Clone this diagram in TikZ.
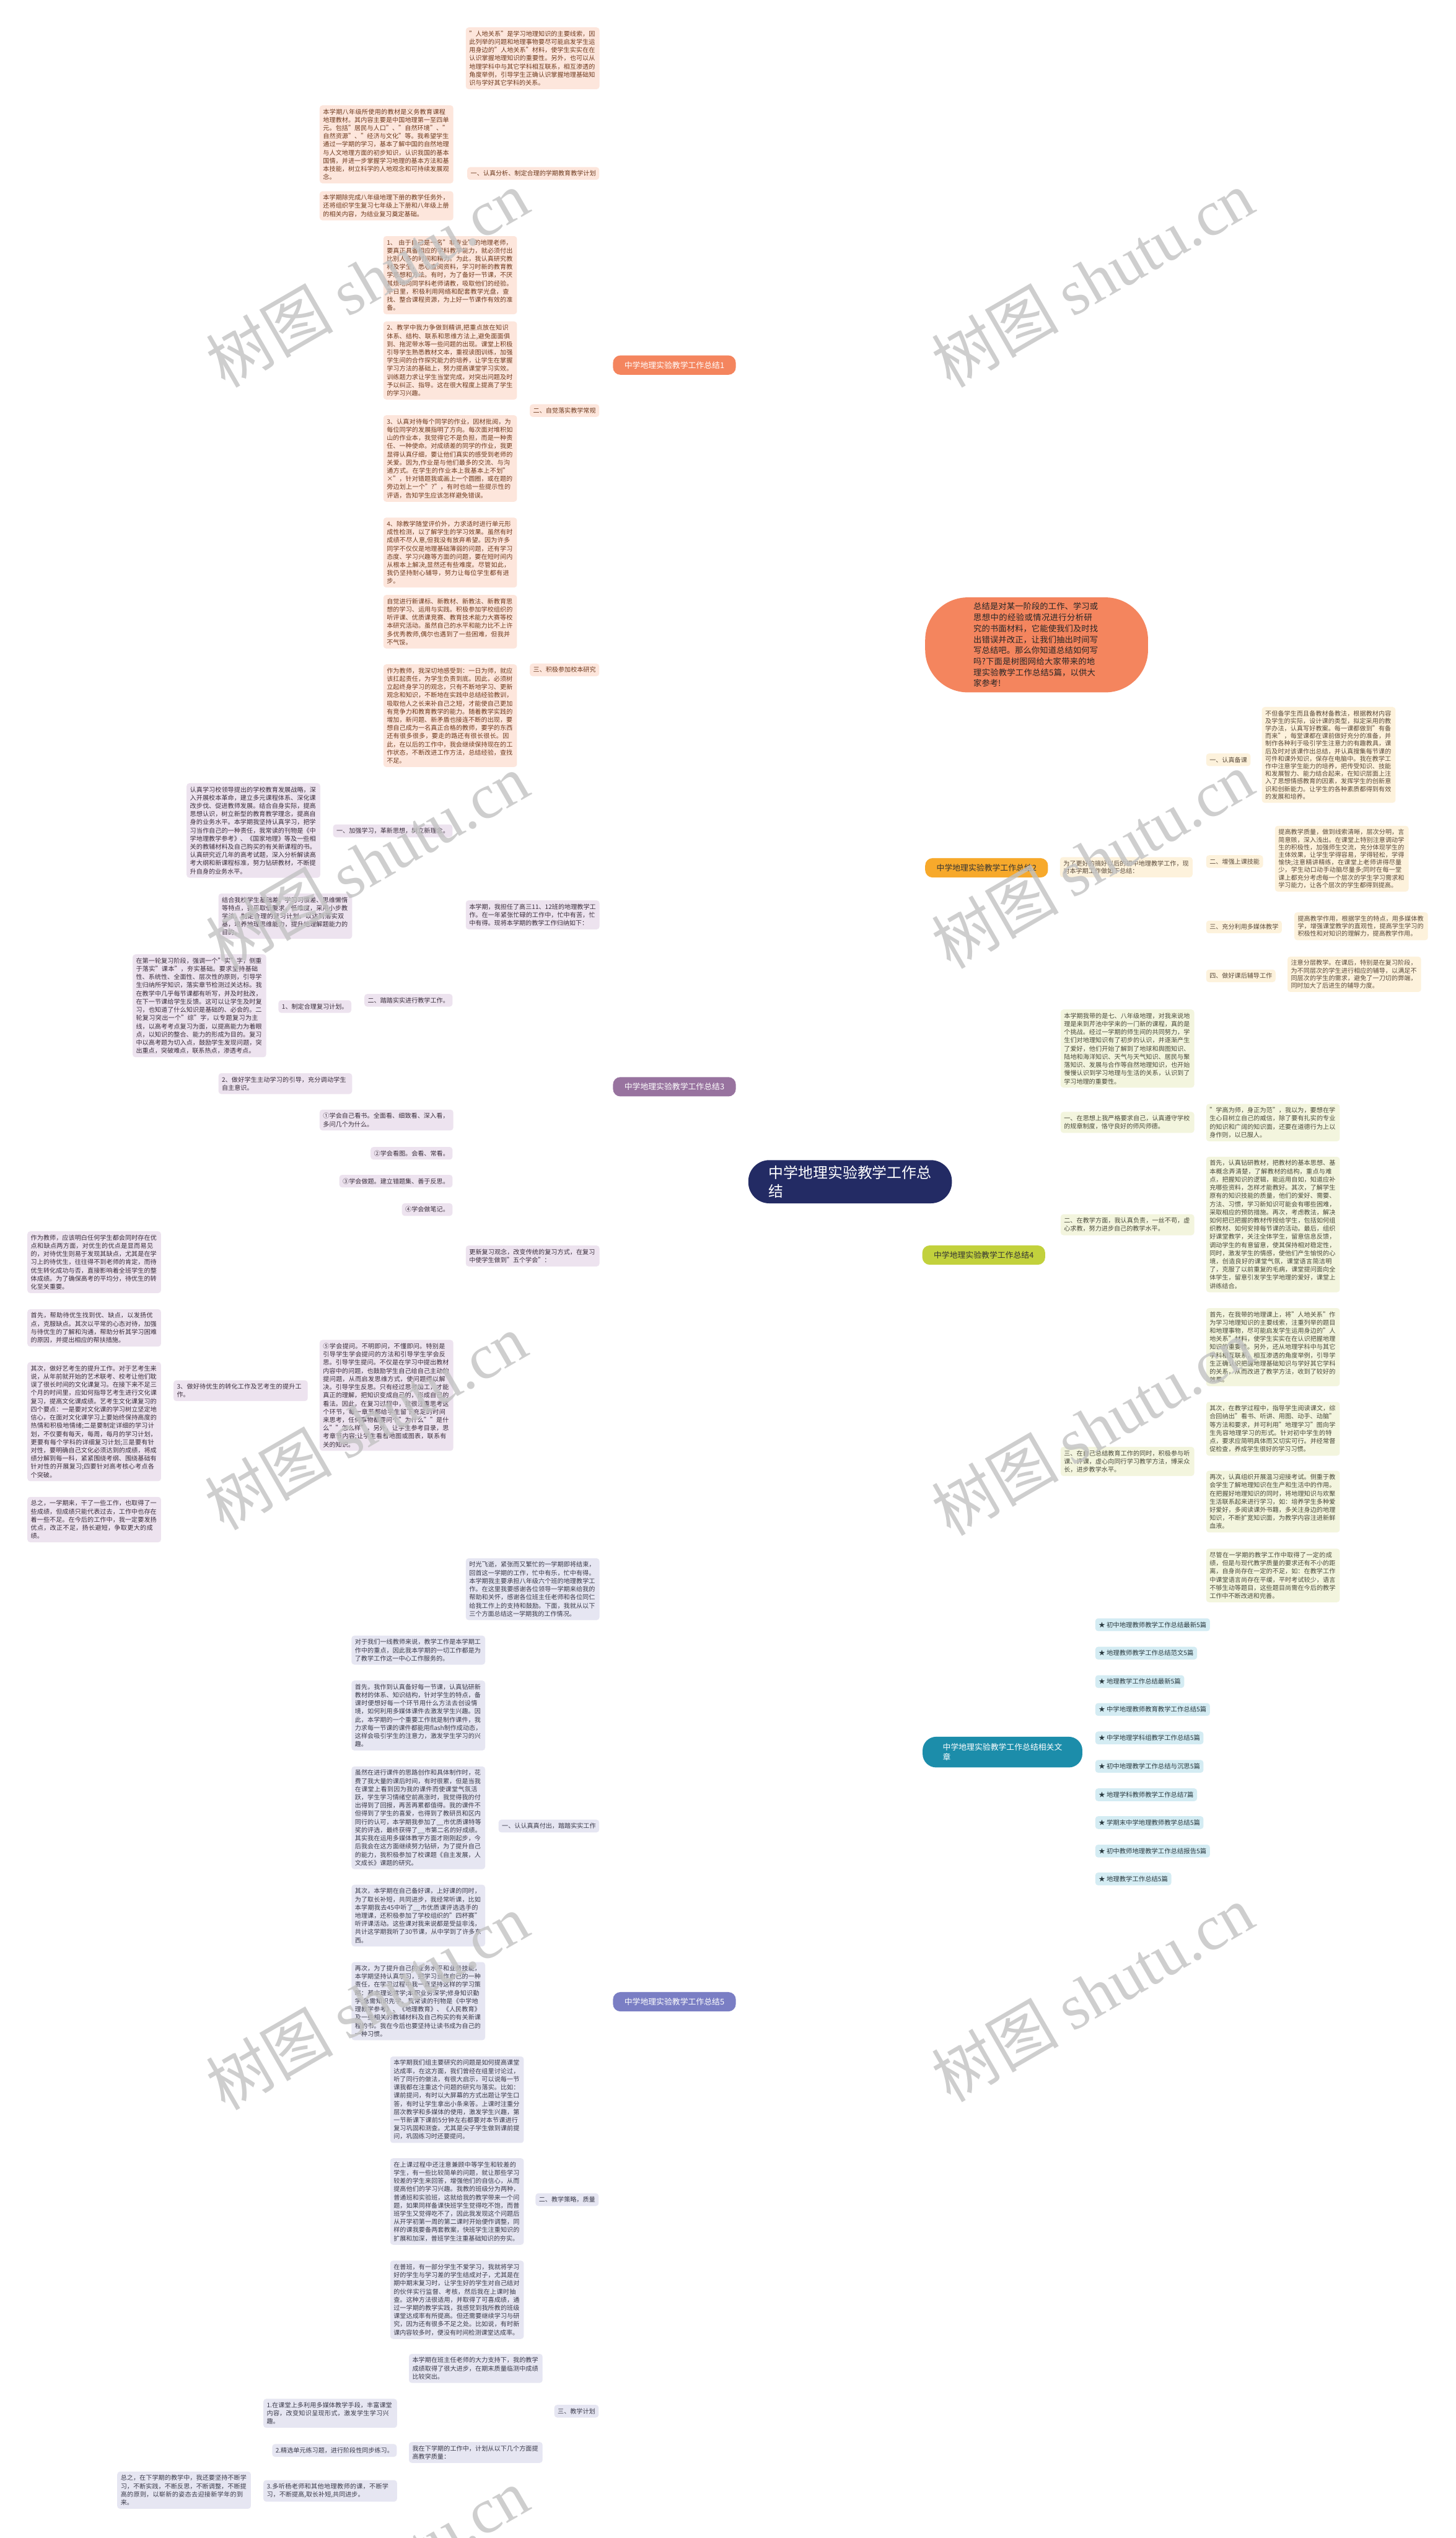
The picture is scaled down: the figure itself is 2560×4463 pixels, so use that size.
\documentclass[tikz,border=0pt]{standalone}
\usepackage{fontspec}
\setmainfont{Noto Sans CJK SC}
\newfontfamily\wmlat{Liberation Serif}
\usetikzlibrary{calc}
\XeTeXlinebreaklocale "zh"
\XeTeXlinebreakskip = 0pt plus 1pt
\definecolor{navy}{HTML}{232B64}
\definecolor{oMain}{HTML}{F4855E}
\definecolor{oLine}{HTML}{E98A60}
\definecolor{oBox}{HTML}{FDE6DC}
\definecolor{oText}{HTML}{6E3A1E}
\definecolor{yMain}{HTML}{F7A92B}
\definecolor{yLine}{HTML}{F2AE3B}
\definecolor{yBox}{HTML}{FDF2DC}
\definecolor{yText}{HTML}{5A4A3A}
\definecolor{pMain}{HTML}{98739F}
\definecolor{pLine}{HTML}{7E5683}
\definecolor{pBox}{HTML}{EDE3EF}
\definecolor{pText}{HTML}{3A2E3C}
\definecolor{gMain}{HTML}{C2D13C}
\definecolor{gLine}{HTML}{B9C83A}
\definecolor{gBox}{HTML}{F3F5DE}
\definecolor{gText}{HTML}{4A4A3A}
\definecolor{tMain}{HTML}{1C8DAA}
\definecolor{tBox}{HTML}{D4ECF3}
\definecolor{tText}{HTML}{2A3A40}
\definecolor{bMain}{HTML}{7A7EC4}
\definecolor{bLine}{HTML}{5B5E9C}
\definecolor{bBox}{HTML}{E6E6F2}
\definecolor{bText}{HTML}{3A3A4A}
\pgfdeclarelayer{bg}
\pgfdeclarelayer{fg}
\pgfsetlayers{bg,main,fg}
\newcommand\cvL[3]{\draw[#1] (#2.west) .. controls ([xshift=-12pt]#2.west) and ($(#2.west |- #3.east)+(-12pt,0pt)$) .. (#3.east);}
\newcommand\cvR[3]{\draw[#1] (#2.east) .. controls ([xshift=12pt]#2.east) and ($(#2.east |- #3.west)+(12pt,0pt)$) .. (#3.west);}
\newcommand\ebL[3]{\draw[#1] (#2.west) -- ([xshift=-11pt]#2.west) |- (#3.east);}
\newcommand\ebR[3]{\draw[#1] (#2.east) -- ([xshift=11pt]#2.east) |- (#3.west);}
\newcommand\stL[3]{\draw[#1] (#2.west) -- (#2.west -| #3.east);}
\newcommand\stR[3]{\draw[#1] (#2.east) -- (#2.east -| #3.west);}
\tikzset{
 txt/.style={font=\fontsize{11}{14.4}\selectfont},
 bx/.style={txt, rounded corners=5pt, inner xsep=6pt, inner ysep=6pt, align=left, text width=#1, anchor=north west},
 bx/.default=223pt,
 lb/.style={txt, rounded corners=5pt, inner xsep=6pt, inner ysep=6pt},
 bO/.style={bx, fill=oBox, text=oText}, lO/.style={lb, fill=oBox, text=oText},
 bY/.style={bx, fill=yBox, text=yText, font=\fontsize{11}{13.3}\selectfont}, lY/.style={lb, fill=yBox, text=yText},
 bP/.style={bx, fill=pBox, text=pText}, lP/.style={lb, fill=pBox, text=pText},
 bG/.style={bx, fill=gBox, text=gText}, lG/.style={lb, fill=gBox, text=gText},
 lT/.style={lb, fill=tBox, text=tText, anchor=west, font=\fontsize{11.3}{14}\selectfont},
 bB/.style={bx, fill=bBox, text=bText}, lB/.style={lb, fill=bBox, text=bText},
 cO/.style={draw=oLine, line width=1.8pt, rounded corners=6pt},
 cY/.style={draw=yLine, line width=1.8pt, rounded corners=6pt},
 cP/.style={draw=pLine, line width=1.8pt, rounded corners=6pt},
 cG/.style={draw=gLine, line width=1.8pt, rounded corners=6pt},
 cT/.style={draw=tMain, line width=1.8pt, rounded corners=6pt},
 cB/.style={draw=bLine, line width=1.8pt, rounded corners=6pt},
 mln/.style={line width=2.6pt},
 brn/.style={font=\fontsize{14}{17}\selectfont, rounded corners=13pt, minimum width=216pt, minimum height=34pt, inner xsep=4pt},
 ctr/.style={fill=navy, text=white, font=\fontsize{26}{32}\selectfont, rounded corners=37pt, minimum width=358pt, minimum height=76pt, align=left},
 wm/.style={text=black!24, opacity=0.8, rotate=30, font=\fontsize{112}{120}\selectfont}
}
\begin{document}
\begin{tikzpicture}[x=1pt,y=-1pt]
\fill[white] (0,0) rectangle (2560,4463);
\useasboundingbox (0,0) rectangle (2560,4463);

% ---------- center ----------
\node[ctr] (C) at (1495,2078) {中学地理实验教学工作总\\结};
\coordinate (s1) at (1390,2078);
\coordinate (s2) at (1430,2078);
\coordinate (s3) at (1450,2078);
\coordinate (s4) at (1380,2078);
\coordinate (s5) at (1560,2078);
\coordinate (s6) at (1520,2078);
\coordinate (s7) at (1420,2078);

\node[fill=oMain, text=black!85, rounded corners=75pt, minimum width=392pt, minimum height=167pt, text width=222pt, align=left, font=\fontsize{14.5}{19.3}\selectfont] (intro) at (1823,1134) {总结是对某一阶段的工作、学习或思想中的经验或情况进行分析研究的书面材料，它能使我们及时找出错误并改正，让我们抽出时间写写总结吧。那么你知道总结如何写吗?下面是树图网给大家带来的地理实验教学工作总结5篇，以供大家参考!};

\node[brn, fill=oMain, text=white] (B1) at (1186,642) {中学地理实验教学工作总结1};
\node[brn, fill=yMain, text=black!80] (B2) at (1735,1526) {中学地理实验教学工作总结2};
\node[brn, fill=pMain, text=white] (B3) at (1186,1911) {中学地理实验教学工作总结3};
\node[brn, fill=gMain, text=black!80] (B4) at (1730,2207) {中学地理实验教学工作总结4};
\node[brn, fill=tMain, text=white, minimum width=281pt, minimum height=54pt, rounded corners=24pt, align=left] (Rel) at (1763,3081) {中学地理实验教学工作总结相关文\\章};
\node[brn, fill=bMain, text=white] (B5) at (1186,3520) {中学地理实验教学工作总结5};

% ---------- branch 1 ----------
\node[bO] (n1a) at (819,48) {"人地关系"是学习地理知识的主要线索，因此列举的问题和地理事物要尽可能启发学生运用身边的"人地关系"材料，使学生实实在在认识掌握地理知识的重要性。另外，也可以从地理学科中与其它学科相互联系，相互渗透的角度举例，引导学生正确认识掌握地理基础知识与学好其它学科的关系。};
\node[lO, anchor=east] (n1b) at (1054,305) {一、认真分析、制定合理的学期教育教学计划};
\node[bO] (n1b1) at (562,185) {本学期八年级所使用的教材是义务教育课程地理教材。其内容主要是中国地理第一至四单元。包括"居民与人口"、"自然环境"、"自然资源"、"经济与文化"等。我希望学生通过一学期的学习，基本了解中国的自然地理与人文地理方面的初步知识，认识我国的基本国情，并进一步掌握学习地理的基本方法和基本技能，树立科学的人地观念和可持续发展观念。};
\node[bO] (n1b2) at (562,336) {本学期除完成八年级地理下册的教学任务外，还将组织学生复习七年级上下册和八年级上册的相关内容，为结业复习奠定基础。};
\node[lO, anchor=east] (n1c) at (1054,722) {二、自觉落实教学常规};
\node[bO] (n1c1) at (674,415) {1、 由于自己是一名"非专业"的地理老师，要真正具备相应的学科教学能力，就必须付出比别人多的时间和精力。为此，我认真研究教材及学生，悉心查阅资料，学习时新的教育教学思想和方法。有时，为了备好一节课，不厌其烦地向同学科老师请教，吸取他们的经验。平日里，积极利用网络和配套教学光盘，查找、整合课程资源，为上好一节课作有效的准备。};
\node[bO] (n1c2) at (674,565) {2、教学中我力争做到精讲,把重点放在知识体系、结构、联系和思维方法上,避免面面俱到、拖泥带水等一些问题的出现。课堂上积极引导学生熟悉教材文本，重视读图训练，加强学生间的合作探究能力的培养，让学生在掌握学习方法的基础上，努力提高课堂学习实效。训练题力求让学生当堂完成，对突出问题及时予以纠正、指导。这在很大程度上提高了学生的学习兴趣。};
\node[bO] (n1c3) at (674,730) {3、认真对待每个同学的作业，因材批阅，为每位同学的发展指明了方向。每次面对堆积如山的作业本，我觉得它不是负担，而是一种责任、一种使命。对成绩差的同学的作业，我更显得认真仔细，要让他们真实的感受到老师的关爱。因为,作业是与他们最多的交流、与沟通方式。在学生的作业本上我基本上不划"×"，针对错题我或画上一个圆圈，或在题的旁边划上一个"?"，有时也给一些提示性的评语，告知学生应该怎样避免错误。};
\node[bO] (n1c4) at (674,910) {4、除教学随堂评价外，力求适时进行单元形成性检测，以了解学生的学习效果。虽然有时成绩不尽人意,但我没有放弃希望。因为许多同学不仅仅是地理基础薄弱的问题，还有学习态度、学习兴趣等方面的问题，要在短时间内从根本上解决,显然还有些难度。尽管如此，我仍坚持耐心辅导，努力让每位学生都有进步。};
\node[lO, anchor=east] (n1d) at (1054,1178) {三、积极参加校本研究};
\node[bO] (n1d1) at (674,1046) {自觉进行新课标、新教材、新教法、新教育思想的学习、运用与实践。积极参加学校组织的听评课、优质课竞赛、教育技术能力大赛等校本研究活动。虽然自己的水平和能力比不上许多优秀教师,偶尔也遇到了一些困难，但我并不气馁。};
\node[bO] (n1d2) at (674,1168) {作为教师，我深切地感受到：一日为师，就应该扛起责任，为学生负责到底。因此，必须树立起终身学习的观念，只有不断地学习、更新观念和知识，不断地在实践中总结经验教训，吸取他人之长来补自己之短，才能使自己更加有竞争力和教育教学的能力。随着教学实践的增加，新问题、新矛盾也接连不断的出现，要想自己成为一名真正合格的教师，要学的东西还有很多很多，要走的路还有很长很长。因此，在以后的工作中，我会继续保持现在的工作状态，不断改进工作方法，总结经验，查找不足。};

% ---------- branch 2 ----------
\node[bY, text width=221pt] (n2a) at (1864,1507) {为了更好的搞好以后的初中地理教学工作，现对本学期工作做如下总结：};
\node[lY, anchor=west] (n2b) at (2121,1336) {一、认真备课};
\node[lY, anchor=west] (n2c) at (2121,1515) {二、增强上课技能};
\node[lY, anchor=west] (n2d) at (2121,1630) {三、充分利用多媒体教学};
\node[lY, anchor=west] (n2e) at (2121,1716) {四、做好课后辅导工作};
\node[bY] (n2b1) at (2219,1243) {不但备学生而且备教材备教法，根据教材内容及学生的实际，设计课的类型，拟定采用的教学办法，认真写好教案。每一课都做到"有备而来"，每堂课都在课前做好充分的准备，并制作各种利于吸引学生注意力的有趣教具，课后及时对该课作出总结，并认真搜集每节课的可件和课外知识，保存在电脑中。我在教学工作中注意学生能力的培养，把传受知识、技能和发展智力、能力结合起来，在知识层面上注入了思想情感教育的因素，发挥学生的创新意识和创新能力。让学生的各种素质都得到有效的发展和培养。};
\node[bY] (n2c1) at (2242,1452) {提高教学质量，做到线索清晰，层次分明，言简意赅，深入浅出。在课堂上特别注意调动学生的积极性，加强师生交流，充分体现学生的主体效果，让学生学得容易，学得轻松，学得愉快;注意精讲精练，在课堂上老师讲得尽量少，学生动口动手动脑尽量多;同时在每一堂课上都充分考虑每一个层次的学生学习需求和学习能力，让各个层次的学生都得到提高。};
\node[bY] (n2d1) at (2276,1604) {提高教学作用，根据学生的特点，用多媒体教学，增强课堂教学的直观性，提高学生学习的积极性和对知识的理解力，提高教学作用。};
\node[bY] (n2e1) at (2264,1682) {注意分层教学。在课后，特别是在复习阶段，为不同层次的学生进行相应的辅导，以满足不同层次的学生的需求，避免了一刀切的弊端，同时加大了后进生的辅导力度。};

% ---------- branch 3 ----------
\node[bP] (n3a) at (819,1583) {本学期，我担任了高三11、12班的地理教学工作。在一年紧张忙碌的工作中，忙中有苦，忙中有得。现将本学期的教学工作归纳如下：};
\node[lP, anchor=east] (n3b) at (796,1461) {一、加强学习，革新思想，树立新理念。};
\node[bP] (n3b1) at (328,1377) {认真学习校领导提出的学校教育发展战略，深入开展校本革命，建立多元课程体系、深化课改步伐、促进教师发展。结合自身实际，提高思想认识，树立新型的教育教学理念，提高自身的业务水平。本学期我坚持认真学习，把学习当作自己的一种责任，我常读的刊物是《中学地理教学参考》、《国家地理》等及一些相关的教辅材料及自己购买的有关新课程的书。认真研究近几年的高考试题，深入分析解读高考大纲和新课程标准，努力钻研教材，不断提升自身的业务水平。};
\node[lP, anchor=east] (n3c) at (796,1759) {二、踏踏实实进行教学工作。};
\node[bP] (n3c1) at (384,1571) {结合我校学生基础差、学习习惯差、思维懒惰等特点，我采取低要求，低难度，采用小步教学法，制定合理的复习计划，以达到落实双基，培养地理思维能力，提升地理解题能力的目的。};
\node[lP, anchor=east] (n3c2) at (618,1770) {1、制定合理复习计划。};
\node[bP] (n3c2a) at (233,1678) {在第一轮复习阶段，强调一个"实"字，侧重于落实"课本"，夯实基础。要求坚持基础性、系统性、全面性、层次性的原则，引导学生归纳所学知识，落实章节检测过关达标。我在教学中几乎每节课都有听写，并及时批改，在下一节课给学生反馈。这可以让学生及时复习，也知道了什么知识是基础的、必会的。二轮复习突出一个"综"字，以专题复习为主线，以高考考点复习为面，以提高能力为着眼点，以知识的整合、能力的形成为目的。复习中以高考题为切入点，鼓励学生发现问题，突出重点，突破难点，联系热点，渗透考点。};
\node[bP] (n3c3) at (384,1887) {2、做好学生主动学习的引导，充分调动学生自主意识。};
\node[bP] (n3d) at (819,2190) {更新复习观念，改变传统的复习方式，在复习中使学生做到"五个学会"：};
\node[bP] (n3d1) at (562,1951) {①学会自己看书。全面看、细致看、深入看，多问几个为什么。};
\node[lP, anchor=east] (n3d2) at (796,2028) {②学会看图。会看、常看。};
\node[lP, anchor=east] (n3d3) at (796,2077) {③学会做题。建立错题集、善于反思。};
\node[lP, anchor=east] (n3d4) at (796,2127) {④学会做笔记。};
\node[bP] (n3d5) at (562,2356) {⑤学会提问。不明即问，不懂即问。特别是引导学生学会提问的方法和引导学生学会反思。引导学生提问。不仅是在学习中提出教材内容中的问题，也鼓励学生自己给自己主动的提问题，从而启发思维方式，使问题得以解决。引导学生反思。只有经过思考加工，才能真正的理解，把知识变成自己的，形成自己的看法。因此，在复习过程中，我很注重思考这个环节，每一章节都给学生留下充足的时间来思考，任何事物都要问个"为什么""是什么""怎么样"，另外，让学生参考目录，思考章节内容;让学生看着地图或图表，联系有关的知识。};
\node[bP, text width=224pt] (n3e) at (305,2427) {3、做好待优生的转化工作及艺考生的提升工作。};
\node[bP] (n3e1) at (48,2165) {作为教师，应该明白任何学生都会同时存在优点和缺点两方面，对优生的优点是显而易见的，对待优生则易于发现其缺点，尤其是在学习上的待优生，往往得不到老师的肯定，而待优生转化成功与否，直接影响着全班学生的整体成绩。为了确保高考的平均分，待优生的转化至关重要。};
\node[bP] (n3e2) at (48,2302) {首先，帮助待优生找到优、缺点，以发扬优点，克服缺点。其次以平常的心态对待，加强与待优生的了解和沟通，帮助分析其学习困难的原因，并提出相应的帮扶措施。};
\node[bP] (n3e3) at (48,2395) {其次，做好艺考生的提升工作。对于艺考生来说，从年前就开始的艺术联考、校考让他们耽误了很长时间的文化课复习。在接下来不足三个月的时间里，应如何指导艺考生进行文化课复习，提高文化课成绩。艺考生文化课复习的四个要点：一是要对文化课的学习树立坚定地信心，在面对文化课学习上要始终保持高度的热情和积极地情绪;二是要制定详细的学习计划，不仅要有每天，每周，每月的学习计划，更要有每个学科的详细复习计划;三是要有针对性，要明确自己文化必须达到的成绩，将成绩分解到每一科，紧紧围绕考纲、围绕基础有针对性的开展复习;四要针对高考核心考点各个突破。};
\node[bP] (n3e4) at (48,2632) {总之，一学期来，干了一些工作，也取得了一些成绩，但成绩只能代表过去，工作中也存在着一些不足。在今后的工作中，我一定要发扬优点，改正不足，扬长避短，争取更大的成绩。};

% ---------- branch 4 ----------
\node[bG] (n4a) at (1865,1775) {本学期我带的是七、八年级地理，对我来说地理是来到芹池中学来的一门新的课程，真的是个挑战。经过一学期的师生间的共同努力，学生们对地理知识有了初步的认识，并逐渐产生了爱好，他们开始了解到了地球和舆图知识、陆地和海洋知识、天气与天气知识、居民与聚落知识、发展与合作等自然地理知识，也开始慢慢认识到学习地理与生活的关系，认识到了学习地理的重要性。};
\node[bG] (n4b) at (1865,1955) {一、在思想上我严格要求自己，认真遵守学校的规章制度，恪守良好的师风师德。};
\node[bG] (n4c) at (1865,2135) {二、在教学方面，我认真负责，一丝不苟，虚心求教，努力进步自己的教学水平。};
\node[bG] (n4d) at (1865,2544) {三、在自己总结教育工作的同时，积极参与听课、评课，虚心向同行学习教学方法，博采众长，进步教学水平。};
\node[bG] (n4b1) at (2121,1941) {"学高为师，身正为范"，我以为，要想在学生心目树立自己的威信，除了要有扎实的专业的知识和广阔的知识面，还要在道德行为上以身作则，以已服人。};
\node[bG] (n4c1) at (2121,2034) {首先，认真钻研教材，把教材的基本思想、基本概念弄清楚，了解教材的结构，重点与难点，把握知识的逻辑，能运用自如，知道应补充哪些资料，怎样才能教好。其次，了解学生原有的知识技能的质量，他们的爱好、需要、方法、习惯，学习新知识可能会有哪些困难，采取相应的预防措施。再次，考虑教法，解决如何把已把握的教材传授给学生，包括如何组织教材、如何安排每节课的活动。最后，组织好课堂教学，关注全体学生，留意信息反馈，调动学生的有意留意，使其保持相对稳定性，同时，激发学生的情感，使他们产生愉悦的心境，创造良好的课堂气氛，课堂语言简洁明了，克服了以前重复的毛病，课堂提问面向全体学生，留意引发学生学地理的爱好，课堂上讲练结合。};
\node[bG] (n4d1) at (2121,2300) {首先，在我带的地理课上，将"人地关系"作为学习地理知识的主要线索，注重列举的题目和地理事物，尽可能启发学生运用身边的"人地关系"材料，使学生实实在在认识把握地理知识的重要性。另外，还从地理学科中与其它学科相互联系，相互渗透的角度举例，引导学生正确认识把握地理基础知识与学好其它学科的关系，从而改进了教学方法，收到了较好的效果。};
\node[bG] (n4d2) at (2121,2465) {其次，在教学过程中，指导学生阅读课文，综合回纳出"看书、听讲、用图、动手、动脑"等方法和要求，并可利用"地理学习"图向学生先容地理学习的形式。针对初中学生的特点，要求应简明具体而又切实可行。并经常督促检查，养成学生很好的学习习惯。};
\node[bG] (n4d3) at (2121,2586) {再次，认真组织开展温习迎接考试。侧重于教会学生了解地理知识在生产和生活中的作用。在把握好地理知识的同时，将地理知识与欢聚生活联系起来进行学习，如：培养学生多种爱好爱好，多阅读课外书籍，多关注身边的地理知识，不断扩宽知识面，为教学内容注进新鲜血液。};
\node[bG] (n4d4) at (2121,2723) {尽管在一学期的教学工作中取得了一定的成绩，但是与现代教学质量的要求还有不小的距离，自身尚存在一定的不足，如：在教学工作中课堂语言尚存在平缓，平时考试较少，语言不够生动等题目，这些题目尚需在今后的教学工作中不断改进和完善。};

% ---------- related ----------
\node[lT] (r1) at (1926,2857) {★ 初中地理教师教学工作总结最新5篇};
\node[lT] (r2) at (1926,2907) {★ 地理教师教学工作总结范文5篇};
\node[lT] (r3) at (1926,2957) {★ 地理教学工作总结最新5篇};
\node[lT] (r4) at (1926,3006) {★ 中学地理教师教育教学工作总结5篇};
\node[lT] (r5) at (1926,3056) {★ 中学地理学科组教学工作总结5篇};
\node[lT] (r6) at (1926,3106) {★ 初中地理教学工作总结与沉思5篇};
\node[lT] (r7) at (1926,3156) {★ 地理学科教师教学工作总结7篇};
\node[lT] (r8) at (1926,3205) {★ 学期末中学地理教师教学总结5篇};
\node[lT] (r9) at (1926,3255) {★ 初中教师地理教学工作总结报告5篇};
\node[lT] (r10) at (1926,3304) {★ 地理教学工作总结5篇};

% ---------- branch 5 ----------
\node[bB] (n5a) at (819,2740) {时光飞逝，紧张而又繁忙的一学期即将结束，回首这一学期的工作，忙中有乐，忙中有得。本学期我主要承担八年级六个班的地理教学工作。在这里我要感谢各位领导一学期来给我的帮助和关怀，感谢各位班主任老师和各位同仁给我工作上的支持和鼓励。下面，我就从以下三个方面总结这一学期我的工作情况。};
\node[lB, anchor=east] (n5b) at (1054,3211) {一、认认真真付出，踏踏实实工作};
\node[bB] (n5b1) at (618,2876) {对于我们一线教师来说，教学工作是本学期工作中的重点，因此我本学期的一切工作都是为了教学工作这一中心工作服务的。};
\node[bB] (n5b2) at (618,2955) {首先，我作到认真备好每一节课，认真钻研新教材的体系、知识结构，针对学生的特点，备课时便想好每一个环节用什么方法去创设情境，如何利用多媒体课件去激发学生兴趣。因此，本学期的一个重要工作就是制作课件，我力求每一节课的课件都能用flash制作成动态，这样会吸引学生的注意力，激发学生学习的兴趣。};
\node[bB] (n5b3) at (618,3106) {虽然在进行课件的思路创作和具体制作时，花费了我大量的课后时间，有时很累，但是当我在课堂上看到因为我的课件而使课堂气氛活跃，学生学习情绪空前高涨时，我觉得我的付出得到了回报，再苦再累都值得。我的课件不但得到了学生的喜爱，也得到了教研员和区内同行的认可，本学期我参加了\_\_市优质课特等奖的评选，最终获得了\_\_市第二名的好成绩。其实我在运用多媒体教学方面才刚刚起步，今后我会在这方面继续努力钻研，为了提升自己的能力，我积极参加了校课题《自主发展，人文成长》课题的研究。};
\node[bB] (n5b4) at (618,3314) {其次，本学期在自己备好课，上好课的同时，为了取长补短，共同进步，我经常听课，比如本学期我去45中听了\_\_市优质课评选选手的地理课，还积极参加了学校组织的"四杯赛"听评课活动。这些课对我来说都是受益非浅，共计这学期我听了30节课，从中学到了许多东西。};
\node[bB] (n5b5) at (618,3450) {再次，为了提升自己的业务水平和业务技能，本学期坚持认真学习，把学习当作自己的一种责任，在学习过程中我一直坚持这样的学习策略：基本理论常学;本职业务深学;修身知识勤学;急需知识先学。我常读的刊物是《中学地理教学参考》、《地理教育》、《人民教育》及一些相关的教辅材料及自己构买的有关新课程的书。我在今后也要坚持让读书成为自己的一种习惯。};
\node[lB, anchor=east] (n5c) at (1053,3868) {二、教学策略，质量};
\node[bB] (n5c1) at (686,3616) {本学期我们组主要研究的问题是如何提高课堂达成率，在这方面，我们曾经在组里讨论过，听了同行的做法，有很大启示，可以说每一节课我都在注重这个问题的研究与落实。比如：课前提问，有时以大屏幕的方式出题让学生口答，有时让学生拿出小条来答。上课时注重分层次教学和多媒体的使用，激发学生兴趣，第一节新课下课前5分钟左右都要对本节课进行复习巩固和测查。尤其是尖子学生做到课前提问，巩固练习时还要提问。};
\node[bB] (n5c2) at (686,3795) {在上课过程中还注意兼顾中等学生和较差的学生，有一些比较简单的问题，就让那些学习较差的学生来回答，增强他们的自信心，从而提高他们的学习兴趣。我教的班级分为两种，普通班和实验班，这就给我的教学带来一个问题，如果同样备课快班学生觉得吃不饱，而普班学生又觉得吃不了，因此我发现这个问题后从开学初第一周的第二课时开始便作调整，同样的课我要备两套教案，快班学生注重知识的扩展和加深，普班学生注重基础知识的夯实。};
\node[bB] (n5c3) at (686,3975) {在普班，有一部分学生不爱学习，我就将学习好的学生与学习差的学生结成对子，尤其是在期中期末复习时，让学生好的学生对自己结对的伙伴实行监督、考核，然后我在上课时抽查。这种方法很适用，并取得了可喜成绩，通过一学期的教学实践，我感觉到我所教的班级课堂达成率有所提高。但还需要继续学习与研究，因为还有很多不足之处。比如说，有时新课内容较多时，便没有时间检测课堂达成率。};
\node[lB, anchor=east] (n5d) at (1053,4240) {三、教学计划};
\node[bB] (n5d1) at (719,4139) {本学期在班主任老师的大力支持下，我的教学成绩取得了很大进步，在期末质量临测中成绩比较突出。};
\node[bB] (n5d2) at (719,4294) {我在下学期的工作中，计划从以下几个方面提高教学质量：};
\node[bB] (n5d2a) at (463,4218) {1.在课堂上多利用多媒体教学手段，丰富课堂内容，改变知识呈现形式，激发学生学习兴趣。};
\node[lB, anchor=east] (n5d2b) at (698,4309) {2.精选单元练习题，进行阶段性同步练习。};
\node[bB] (n5d2c) at (463,4361) {3.多听杨老师和其他地理教师的课，不断学习，不断提高,取长补短,共同进步。};
\node[bB] (n5d2c1) at (206,4346) {总之，在下学期的教学中，我还要坚持不断学习，不断实践，不断反思，不断调整，不断提高的原则，以崭新的姿态去迎接新学年的到来。};

% ---------- connectors ----------
\begin{pgfonlayer}{bg}
\draw[mln, draw=oLine] (s1) .. controls (s1 |- B1.east) .. (B1.east);
\draw[mln, draw=oLine] (s2) .. controls (s2 |- intro.west) .. (intro.west);
\draw[mln, draw=yLine] (s3) .. controls (s3 |- B2.west) .. (B2.west);
\draw[mln, draw=pLine] (s4) .. controls (s4 |- B3.east) .. (B3.east);
\draw[mln, draw=gLine] (s5) .. controls (s5 |- B4.west) .. (B4.west);
\draw[mln, draw=tMain] (s6) .. controls (s6 |- Rel.west) .. (Rel.west);
\draw[mln, draw=bLine] (s7) .. controls (s7 |- B5.east) .. (B5.east);
% branch 1
\cvL{cO}{B1}{n1a} \cvL{cO}{B1}{n1b} \cvL{cO}{B1}{n1c} \cvL{cO}{B1}{n1d}
\ebL{cO}{n1b}{n1b1} \ebL{cO}{n1b}{n1b2}
\ebL{cO}{n1c}{n1c1} \ebL{cO}{n1c}{n1c2} \ebL{cO}{n1c}{n1c3} \ebL{cO}{n1c}{n1c4}
\ebL{cO}{n1d}{n1d1} \ebL{cO}{n1d}{n1d2}
% branch 2
\stR{cY}{B2}{n2a}
\draw[cY] (n2a.east) -- ([xshift=15pt]n2a.east) |- (n2b.west);
\draw[cY] (n2a.east) -- ([xshift=15pt]n2a.east) |- (n2c.west);
\draw[cY] (n2a.east) -- ([xshift=15pt]n2a.east) |- (n2d.west);
\draw[cY] (n2a.east) -- ([xshift=15pt]n2a.east) |- (n2e.west);
\stR{cY}{n2b}{n2b1} \stR{cY}{n2c}{n2c1} \stR{cY}{n2d}{n2d1} \stR{cY}{n2e}{n2e1}
% branch 3
\cvL{cP}{B3}{n3a} \cvL{cP}{B3}{n3d}
\ebL{cP}{n3a}{n3b} \ebL{cP}{n3a}{n3c}
\stL{cP}{n3b}{n3b1}
\ebL{cP}{n3c}{n3c1} \ebL{cP}{n3c}{n3c2} \ebL{cP}{n3c}{n3c3}
\stL{cP}{n3c2}{n3c2a}
\ebL{cP}{n3d}{n3d1} \ebL{cP}{n3d}{n3d2} \ebL{cP}{n3d}{n3d3} \ebL{cP}{n3d}{n3d4} \ebL{cP}{n3d}{n3d5}
\stL{cP}{n3d5}{n3e}
\ebL{cP}{n3e}{n3e1} \ebL{cP}{n3e}{n3e2} \ebL{cP}{n3e}{n3e3} \ebL{cP}{n3e}{n3e4}
% branch 4
\cvR{cG}{B4}{n4a} \cvR{cG}{B4}{n4b} \cvR{cG}{B4}{n4c} \cvR{cG}{B4}{n4d}
\stR{cG}{n4b}{n4b1} \stR{cG}{n4c}{n4c1}
\ebR{cG}{n4d}{n4d1} \ebR{cG}{n4d}{n4d2} \ebR{cG}{n4d}{n4d3} \ebR{cG}{n4d}{n4d4}
% related
\cvR{cT}{Rel}{r1} \cvR{cT}{Rel}{r2} \cvR{cT}{Rel}{r3} \cvR{cT}{Rel}{r4} \cvR{cT}{Rel}{r5}
\cvR{cT}{Rel}{r6} \cvR{cT}{Rel}{r7} \cvR{cT}{Rel}{r8} \cvR{cT}{Rel}{r9} \cvR{cT}{Rel}{r10}
% branch 5
\cvL{cB}{B5}{n5a} \cvL{cB}{B5}{n5b} \cvL{cB}{B5}{n5c} \cvL{cB}{B5}{n5d}
\ebL{cB}{n5b}{n5b1} \ebL{cB}{n5b}{n5b2} \ebL{cB}{n5b}{n5b3} \ebL{cB}{n5b}{n5b4} \ebL{cB}{n5b}{n5b5}
\ebL{cB}{n5c}{n5c1} \ebL{cB}{n5c}{n5c2} \ebL{cB}{n5c}{n5c3}
\ebL{cB}{n5d}{n5d1} \ebL{cB}{n5d}{n5d2}
\ebL{cB}{n5d2}{n5d2a} \ebL{cB}{n5d2}{n5d2b} \ebL{cB}{n5d2}{n5d2c}
\stL{cB}{n5d2c}{n5d2c1}
\end{pgfonlayer}

% ---------- watermarks ----------
\begin{pgfonlayer}{fg}
\foreach \wx/\wy [count=\i] in {646/490, 1921/490, 646/1515, 1921/1512, 643/2500, 1921/2510, 646/3520, 1921/3505, 646/4530}
  \node[wm] (wm\i) at (\wx,\wy) {树图 {\wmlat shutu.cn}};
\end{pgfonlayer}
\end{tikzpicture}
\end{document}
